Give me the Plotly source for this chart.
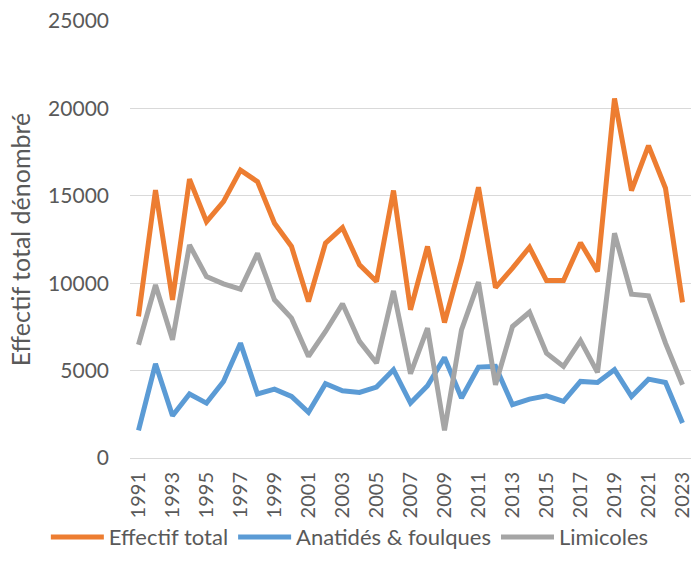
import plotly.graph_objects as go

years = list(range(1991, 2024))
effectif_total = [8100, 15330, 9050, 15950, 13520, 14670, 16470, 15810, 13430, 12100, 8950,
                  12290, 13180, 11050, 10100, 15300, 8480, 12100, 7750, 11300, 15490, 9750,
                  10860, 12060, 10150, 10150, 12320, 10670, 20570, 15300, 17870, 15430, 8900]
anatides = [1580, 5390, 2420, 3660, 3140, 4380, 6570, 3660, 3940, 3520, 2610,
            4250, 3850, 3750, 4060, 5050, 3140, 4130, 5750, 3430, 5200, 5240,
            3050, 3370, 3560, 3240, 4380, 4320, 5050, 3520, 4510, 4320, 2000]
limicoles = [6480, 9900, 6760, 12190, 10380, 9960, 9660, 11710, 9050, 8000, 5810,
             7240, 8820, 6670, 5430, 9560, 4820, 7430, 1580, 7330, 10060, 4190,
             7520, 8340, 6000, 5240, 6720, 4900, 12860, 9370, 9280, 6570, 4190]
series_names = ["Effectif total", "Anatidés & foulques", "Limicoles"]
y_title = "Effectif total dénombré"

colors = ["#ED7D31", "#5B9BD5", "#A5A5A5"]
font = "Lato, 'Open Sans', sans-serif"
txt = "#595959"

fig = go.Figure()
for name, vals, c in zip(series_names, [effectif_total, anatides, limicoles], colors):
    fig.add_trace(go.Scatter(x=years, y=vals, name=name, mode="lines",
                             line=dict(color=c, width=5)))

fig.update_layout(
    width=696, height=574,
    margin=dict(l=130, r=5, t=21, b=116, autoexpand=False),
    paper_bgcolor="white", plot_bgcolor="white",
    font=dict(family=font, size=21, color=txt),
    showlegend=True,
    legend=dict(orientation="h", xref="paper", yref="paper",
                x=-0.15, xanchor="left", y=-0.181, yanchor="middle",
                bgcolor="rgba(0,0,0,0)",
                font=dict(size=22, color=txt), itemwidth=53,
                tracegroupgap=0, traceorder="normal"),
)
fig.update_xaxes(range=[1990.5, 2023.5], tickmode="array",
                 tickvals=years[::2], ticktext=[str(y) for y in years[::2]],
                 tickangle=-90, showgrid=False, showline=True,
                 linecolor="#D9D9D9", linewidth=1, ticks="",
                 ticklabelstandoff=5, zeroline=False, automargin=False,
                 tickfont=dict(size=20, color=txt))
fig.update_yaxes(range=[0, 25000], dtick=5000, tick0=0, tickformat="d",
                 showgrid=True, gridcolor="#D9D9D9", gridwidth=1, zeroline=False,
                 showline=False, ticks="", ticklabelstandoff=20, automargin=False,
                 tickfont=dict(size=21, color=txt),
                 title=dict(text=y_title, font=dict(size=25, color=txt), standoff=10))

fig.write_html("out.html", config={"displayModeBar": False},
               post_script="document.body.style.margin='0';document.body.style.overflow='hidden';")
